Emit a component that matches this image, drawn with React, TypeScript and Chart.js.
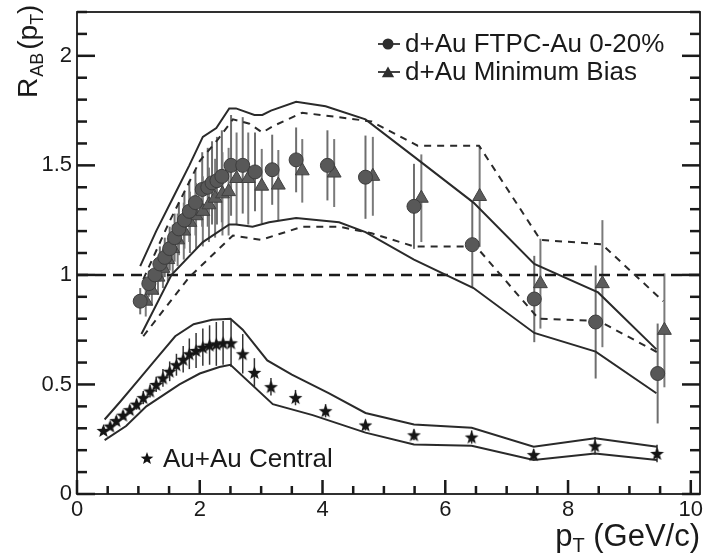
import React, { useEffect, useRef } from "react";
import { Chart, registerables } from "chart.js";

Chart.register(...registerables);

// ---------- axis setup ----------
const xMin = 0;
const xMax = 10.15;
const yMin = 0;
const yMax = 2.2;
const xTickValues = [0, 2, 4, 6, 8, 10];
const yTickValues = [0, 0.5, 1, 1.5, 2];
const xMinorStep = 0.5;
const yMinorStep = 0.1;

// ---------- d+Au FTPC-Au 0-20% (circles) ----------
const dAuCentralPt = [1.03, 1.17, 1.27, 1.35, 1.43, 1.51, 1.59, 1.66, 1.75, 1.83, 1.93, 2.04, 2.13, 2.2, 2.28, 2.36, 2.51, 2.7, 2.9, 3.18, 3.57, 4.08, 4.7, 5.49, 6.44, 7.45, 8.45, 9.46];
const dAuCentralR = [0.88, 0.96, 1.0, 1.05, 1.08, 1.12, 1.17, 1.21, 1.25, 1.29, 1.33, 1.39, 1.4, 1.42, 1.43, 1.45, 1.5, 1.5, 1.47, 1.48, 1.525, 1.5, 1.446, 1.313, 1.138, 0.89, 0.785, 0.55];
const dAuCentralErr = [0.06, 0.06, 0.07, 0.08, 0.09, 0.1, 0.11, 0.12, 0.13, 0.14, 0.15, 0.17, 0.18, 0.19, 0.2, 0.21, 0.23, 0.22, 0.18, 0.16, 0.148, 0.16, 0.19, 0.194, 0.194, 0.197, 0.258, 0.228];

// ---------- d+Au Minimum Bias (triangles) ----------
const dAuMinBiasPt = [1.12, 1.22, 1.32, 1.4, 1.48, 1.56, 1.64, 1.74, 1.84, 1.94, 2.05, 2.15, 2.25, 2.37, 2.47, 2.6, 2.79, 3.01, 3.28, 3.67, 4.19, 4.82, 5.61, 6.56, 7.55, 8.56, 9.57];
const dAuMinBiasR = [0.88, 0.93, 0.99, 1.03, 1.07, 1.12, 1.16, 1.2, 1.24, 1.27, 1.29, 1.32, 1.35, 1.37, 1.38, 1.44, 1.44, 1.405, 1.41, 1.475, 1.465, 1.45, 1.35, 1.358, 0.96, 0.96, 0.747];
const dAuMinBiasErr = [0.07, 0.07, 0.08, 0.09, 0.1, 0.11, 0.12, 0.13, 0.14, 0.15, 0.16, 0.17, 0.18, 0.19, 0.2, 0.21, 0.21, 0.17, 0.16, 0.145, 0.155, 0.18, 0.2, 0.23, 0.205, 0.29, 0.26];

// ---------- Au+Au Central (stars) ----------
const auAuPt = [0.43, 0.54, 0.64, 0.75, 0.86, 0.97, 1.08, 1.19, 1.29, 1.4, 1.51, 1.62, 1.73, 1.83, 1.94, 2.05, 2.16, 2.27, 2.38, 2.51, 2.7, 2.89, 3.16, 3.56, 4.05, 4.7, 5.49, 6.43, 7.44, 8.44, 9.45];
const auAuR = [0.29, 0.31, 0.335, 0.36, 0.385, 0.41, 0.44, 0.47, 0.5, 0.53, 0.56, 0.59, 0.615, 0.64, 0.655, 0.67, 0.68, 0.685, 0.69, 0.69, 0.64, 0.555, 0.49, 0.44, 0.38, 0.315, 0.27, 0.26, 0.18, 0.22, 0.185];
const auAuErr = [0.015, 0.015, 0.02, 0.02, 0.02, 0.025, 0.03, 0.03, 0.035, 0.04, 0.045, 0.05, 0.06, 0.07, 0.08, 0.085, 0.09, 0.1, 0.1, 0.11, 0.09, 0.065, 0.04, 0.035, 0.03, 0.025, 0.025, 0.03, 0.025, 0.04, 0.04];

// ---------- systematic bands ----------
const solidUpperPt = [1.03, 1.29, 1.56, 1.83, 2.05, 2.27, 2.48, 2.59, 2.89, 3.02, 3.16, 3.57, 4.05, 4.7, 5.49, 6.46, 7.45, 8.49, 9.44];
const solidUpperR = [1.04, 1.2, 1.35, 1.5, 1.63, 1.67, 1.76, 1.76, 1.73, 1.73, 1.75, 1.79, 1.77, 1.71, 1.54, 1.33, 1.05, 0.92, 0.66];
const solidLowerPt = [1.05, 1.54, 2.05, 2.48, 2.59, 2.86, 3.13, 3.57, 4.27, 4.7, 5.49, 6.46, 7.45, 8.45, 9.44];
const solidLowerR = [0.73, 1.0, 1.15, 1.23, 1.23, 1.22, 1.24, 1.26, 1.24, 1.195, 1.07, 0.94, 0.735, 0.65, 0.46];

const dashUpperPt = [1.08, 1.5, 2.0, 2.3, 2.54, 2.81, 3.02, 3.2, 3.67, 4.27, 4.8, 5.55, 6.55, 7.55, 8.55, 9.55];
const dashUpperR = [0.98, 1.24, 1.52, 1.62, 1.71, 1.69, 1.65, 1.68, 1.74, 1.72, 1.7, 1.59, 1.59, 1.16, 1.14, 0.88];
const dashLowerPt = [1.08, 1.83, 2.54, 3.0, 3.67, 4.27, 4.8, 5.49, 6.5, 7.52, 8.5, 9.5];
const dashLowerR = [0.72, 0.99, 1.18, 1.16, 1.22, 1.22, 1.19, 1.13, 1.13, 0.8, 0.79, 0.64];

const auAuUpperPt = [0.45, 0.7, 1.0, 1.3, 1.6, 1.9, 2.2, 2.5, 2.7, 3.1, 3.5, 4.1, 4.7, 5.49, 6.43, 7.44, 8.44, 9.45];
const auAuUpperR = [0.34, 0.42, 0.52, 0.62, 0.72, 0.775, 0.795, 0.8, 0.75, 0.61, 0.545, 0.46, 0.37, 0.317, 0.302, 0.216, 0.254, 0.216];
const auAuLowerPt = [0.45, 0.8, 1.13, 1.67, 2.0, 2.32, 2.5, 3.19, 3.84, 4.7, 5.49, 6.43, 7.44, 8.44, 9.45];
const auAuLowerR = [0.246, 0.31, 0.4, 0.5, 0.55, 0.58, 0.59, 0.41, 0.36, 0.28, 0.226, 0.22, 0.155, 0.185, 0.155];

const unityPt = [0, 10.15];
const unityR = [1, 1];

// ---------- text ----------
const legendCentral = "d+Au FTPC-Au 0-20%";
const legendMinBias = "d+Au Minimum Bias";
const legendAuAu = "Au+Au Central";

const FONT = "'Liberation Sans', Arial, Helvetica, sans-serif";
const INK = "#1a1a1a";

const pts = (xs: number[], ys: number[]) => xs.map((x, i) => ({ x, y: ys[i] }));

function makeStar(size: number, color: string): HTMLCanvasElement {
  const c = document.createElement("canvas");
  c.width = size;
  c.height = size;
  const g = c.getContext("2d")!;
  const R = size / 2 - 0.3;
  const r = R * 0.42;
  const cx = size / 2;
  const cy = size / 2 + 0.7;
  g.beginPath();
  for (let k = 0; k < 10; k++) {
    const ang = -Math.PI / 2 + (k * Math.PI) / 5;
    const rad = k % 2 === 0 ? R : r;
    g.lineTo(cx + rad * Math.cos(ang), cy + rad * Math.sin(ang));
  }
  g.closePath();
  g.fillStyle = color;
  g.fill();
  return c;
}

function drawTriangle(ctx: CanvasRenderingContext2D, x: number, y: number, s: number) {
  ctx.beginPath();
  ctx.moveTo(x, y - s);
  ctx.lineTo(x + s * 0.95, y + s * 0.65);
  ctx.lineTo(x - s * 0.95, y + s * 0.65);
  ctx.closePath();
  ctx.fill();
}

const errorBarPlugin = {
  id: "errorBars",
  beforeDatasetsDraw(chart: any) {
    const { ctx, scales } = chart;
    const xs = scales.x;
    const ys = scales.y;
    ctx.save();
    ctx.setLineDash([]);
    chart.data.datasets.forEach((ds: any) => {
      if (!ds.errorBars) return;
      ctx.strokeStyle = ds.errorColor;
      ctx.lineWidth = ds.errorWidth;
      ds.data.forEach((p: any, j: number) => {
        const e = ds.errorBars[j];
        const px = xs.getPixelForValue(p.x);
        const y1 = ys.getPixelForValue(p.y + e);
        const y2 = ys.getPixelForValue(p.y - e);
        ctx.beginPath();
        ctx.moveTo(px, y1);
        ctx.lineTo(px, y2);
        ctx.stroke();
      });
    });
    ctx.restore();
  },
};

const framePlugin = {
  id: "frameTicks",
  afterDraw(chart: any) {
    const ctx: CanvasRenderingContext2D = chart.ctx;
    const a = chart.chartArea;
    const xs = chart.scales.x;
    const ys = chart.scales.y;
    ctx.save();
    ctx.setLineDash([]);
    ctx.strokeStyle = "#1a1a1a";
    ctx.lineWidth = 1.8;
    ctx.strokeRect(a.left, a.top, a.right - a.left, a.bottom - a.top);

    // inward tick marks
    ctx.fillStyle = "#1a1a1a";
    const nx = Math.floor((xMax - xMin) / xMinorStep + 1e-6);
    for (let i = 0; i <= nx; i++) {
      const vv = Math.round((xMin + i * xMinorStep) * 100) / 100;
      const px = xs.getPixelForValue(vv);
      const major = xTickValues.indexOf(vv) >= 0;
      const len = major ? 14 : 8;
      ctx.fillRect(px - 1.25, a.bottom - len, 2.5, len);
    }
    const ny = Math.floor((yMax - yMin) / yMinorStep + 1e-6);
    for (let i = 0; i <= ny; i++) {
      const vv = Math.round((yMin + i * yMinorStep) * 100) / 100;
      const py = ys.getPixelForValue(vv);
      const major = yTickValues.indexOf(vv) >= 0;
      const len = major ? 18 : 10;
      ctx.fillRect(a.left, py - 1.25, len, 2.5);
      ctx.fillRect(a.right - len, py - 1.25, len, 2.5);
    }

    // axis titles
    ctx.fillStyle = INK;
    ctx.textBaseline = "alphabetic";
    const big = `28px ${FONT}`;
    const sub = `18px ${FONT}`;
    ctx.save();
    ctx.translate(37, 98);
    ctx.rotate(-Math.PI / 2);
    let cx = 0;
    ctx.font = big;
    ctx.fillText("R", cx, 0);
    cx += ctx.measureText("R").width + 1;
    ctx.font = sub;
    ctx.fillText("AB", cx, 6);
    cx += ctx.measureText("AB").width + 3;
    ctx.font = big;
    ctx.fillText("(p", cx, 0);
    cx += ctx.measureText("(p").width;
    ctx.font = sub;
    ctx.fillText("T", cx, 6);
    cx += ctx.measureText("T").width;
    ctx.font = big;
    ctx.fillText(")", cx, 0);
    ctx.restore();

    const xbig = `31px ${FONT}`;
    const xsub = `20px ${FONT}`;
    ctx.font = xbig;
    const wP = ctx.measureText("p").width;
    const wRest = ctx.measureText(" (GeV/c)").width;
    ctx.font = xsub;
    const wT = ctx.measureText("T").width;
    let tx = a.right - (wP + wT + wRest);
    const ty = 546;
    ctx.font = xbig;
    ctx.fillText("p", tx, ty);
    tx += wP;
    ctx.font = xsub;
    ctx.fillText("T", tx, ty + 6);
    tx += wT;
    ctx.font = xbig;
    ctx.fillText(" (GeV/c)", tx, ty);

    // legend (top right)
    const lx = 388;
    const ly1 = 44;
    const ly2 = 72;
    ctx.fillStyle = "#444";
    ctx.fillRect(lx - 10, ly1 - 1, 22, 2);
    ctx.fillRect(lx - 10, ly2 - 1, 22, 2);
    ctx.fillStyle = "#2e2e2e";
    ctx.beginPath();
    ctx.arc(lx, ly1, 5.5, 0, Math.PI * 2);
    ctx.fill();
    drawTriangle(ctx, lx, ly2 + 1, 6.5);
    ctx.fillStyle = INK;
    ctx.font = `26px ${FONT}`;
    ctx.textBaseline = "middle";
    ctx.fillText(legendCentral, 405, ly1 + 1);
    ctx.fillText(legendMinBias, 405, ly2 + 1);

    // Au+Au legend
    const star = makeStar(14, "#111");
    ctx.drawImage(star, 147 - 7, 458 - 7);
    ctx.fillText(legendAuAu, 163, 460);
    ctx.restore();
  },
};

export default function App() {
  const ref = useRef<HTMLCanvasElement>(null);

  useEffect(() => {
    document.body.style.margin = "0";
    const canvas = ref.current!;
    const starImg = makeStar(15, "#151515");

    const lineDs = (label: string, xs: number[], ys: number[], dash: number[], width = 2) => ({
      label,
      data: pts(xs, ys),
      showLine: true,
      borderColor: "#2a2a2a",
      borderWidth: width,
      borderDash: dash,
      pointRadius: 0,
      fill: false,
      tension: 0,
      order: 2,
    });

    const chart = new Chart(canvas, {
      type: "scatter",
      data: {
        datasets: [
          {
            label: legendCentral,
            data: pts(dAuCentralPt, dAuCentralR),
            pointStyle: "circle",
            pointRadius: 7,
            backgroundColor: "#585858",
            borderColor: "#3c3c3c",
            borderWidth: 1,
            order: 0,
            errorBars: dAuCentralErr,
            errorColor: "#6e6e6e",
            errorWidth: 2,
          } as any,
          {
            label: legendMinBias,
            data: pts(dAuMinBiasPt, dAuMinBiasR),
            pointStyle: "triangle",
            pointRadius: 8,
            backgroundColor: "#5c5c5c",
            borderColor: "#404040",
            borderWidth: 1,
            order: 0,
            errorBars: dAuMinBiasErr,
            errorColor: "#7a7a7a",
            errorWidth: 2,
          } as any,
          {
            label: legendAuAu,
            data: pts(auAuPt, auAuR),
            pointStyle: starImg,
            pointRadius: 7,
            order: 0,
            errorBars: auAuErr,
            errorColor: "#333",
            errorWidth: 1.5,
          } as any,
          lineDs("solid upper", solidUpperPt, solidUpperR, []),
          lineDs("solid lower", solidLowerPt, solidLowerR, []),
          lineDs("dashed upper", dashUpperPt, dashUpperR, [7, 6]),
          lineDs("dashed lower", dashLowerPt, dashLowerR, [7, 6]),
          lineDs("AuAu upper", auAuUpperPt, auAuUpperR, []),
          lineDs("AuAu lower", auAuLowerPt, auAuLowerR, []),
          { ...lineDs("unity", unityPt, unityR, [11, 7], 2.5), borderColor: "#1a1a1a" },
        ],
      },
      options: {
        animation: false,
        responsive: false,
        events: [],
        layout: { padding: { top: 12, right: 6, left: 0, bottom: 0 } },
        plugins: { legend: { display: false }, tooltip: { enabled: false } },
        scales: {
          x: {
            type: "linear",
            min: xMin,
            max: xMax,
            afterBuildTicks: (s: any) => {
              s.ticks = xTickValues.map((v) => ({ value: v }));
            },
            afterFit: (s: any) => {
              s.height = 59;
              s.paddingLeft = 0;
              s.paddingRight = 0;
            },
            grid: { display: false, drawTicks: false },
            border: { display: false },
            ticks: {
              autoSkip: false,
              maxRotation: 0,
              padding: 3,
              color: INK,
              font: { size: 22, family: FONT },
              callback: (v: any) => String(v),
            },
          },
          y: {
            type: "linear",
            min: yMin,
            max: yMax,
            afterBuildTicks: (s: any) => {
              s.ticks = yTickValues.map((v) => ({ value: v }));
            },
            afterFit: (s: any) => {
              s.width = 77;
              s.paddingTop = 0;
              s.paddingBottom = 0;
            },
            grid: { display: false, drawTicks: false },
            border: { display: false },
            ticks: {
              padding: 5,
              color: INK,
              font: { size: 22, family: FONT },
              callback: (v: any) => String(v),
            },
          },
        },
      },
      plugins: [errorBarPlugin, framePlugin],
    } as any);

    return () => chart.destroy();
  }, []);

  return (
    <div style={{ position: "absolute", left: 0, top: 0, width: 709, height: 553, background: "#fff" }}>
      <canvas ref={ref} width={709} height={553} style={{ display: "block", width: 709, height: 553 }} />
    </div>
  );
}
